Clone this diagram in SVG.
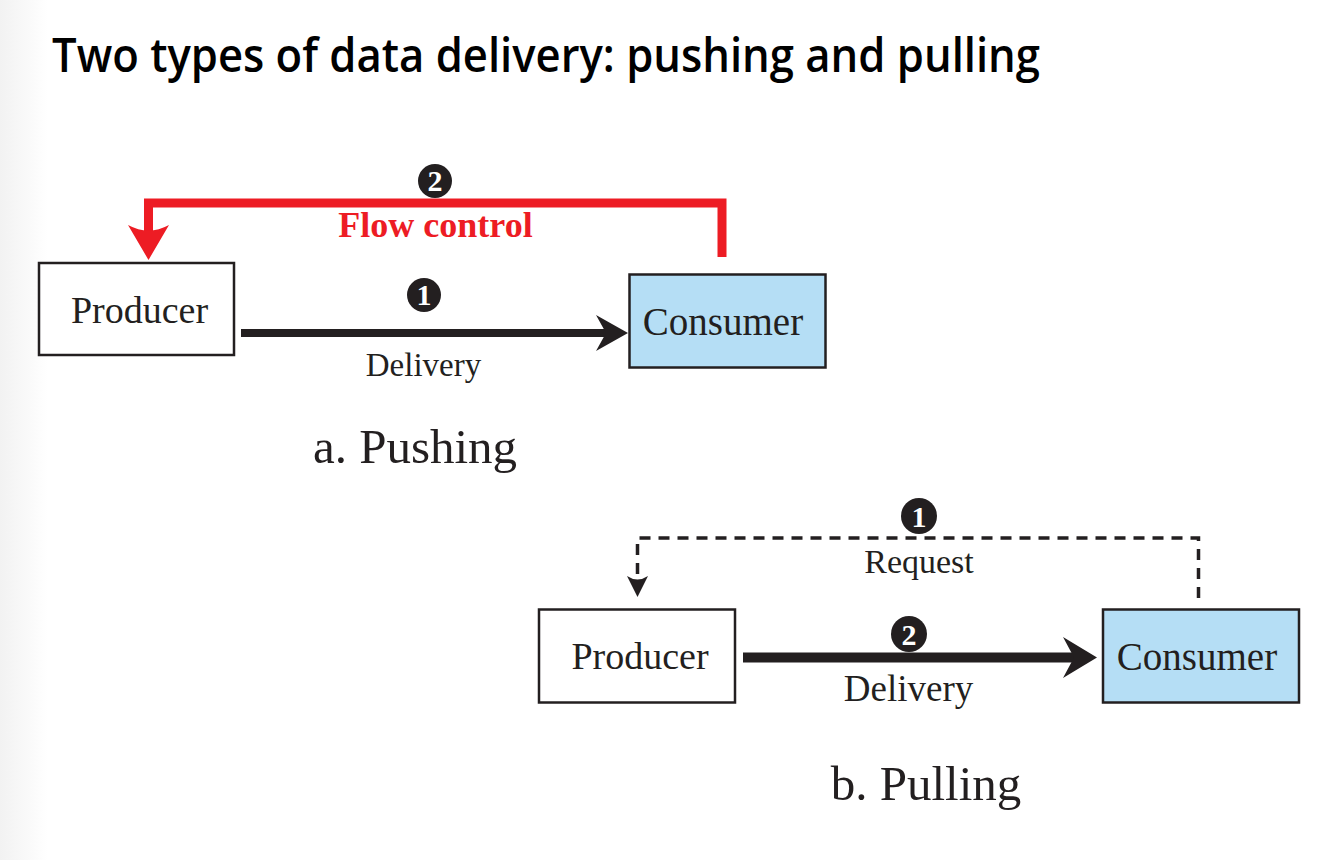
<svg xmlns="http://www.w3.org/2000/svg" width="1334" height="860" viewBox="0 0 1334 860">
<defs>
<linearGradient id="edge" x1="0" y1="0" x2="1" y2="0">
<stop offset="0" stop-color="#f2f2f2"/>
<stop offset="1" stop-color="#ffffff"/>
</linearGradient>
<style>
.box{stroke:#231f20;stroke-width:2.5}
.prod{fill:#ffffff}
.cons{fill:#b5def5}
.lbl{font-family:"Liberation Serif","Times New Roman",serif;fill:#231f20;text-anchor:middle}
.num{font-family:"Liberation Serif","Times New Roman",serif;font-weight:bold;fill:#ffffff;text-anchor:middle;font-size:30px}
.badge{fill:#231f20}
</style>
</defs>
<rect x="0" y="0" width="1334" height="860" fill="#ffffff"/>
<rect x="0" y="0" width="48" height="860" fill="url(#edge)"/>

<text id="title" x="52" y="72" font-family="'Open Sans','Noto Sans',sans-serif" font-weight="600" font-size="47" fill="#000000" textLength="988" lengthAdjust="spacingAndGlyphs">Two types of data delivery: pushing and pulling</text>

<g id="connectors">
  <!-- a: flow control (red) -->
  <path d="M722,257 V203 H148.5 V238" fill="none" stroke="#ed1c24" stroke-width="9"/>
  <path d="M148.5,260 L128,225 Q148.5,236 169,225 Z" fill="#ed1c24"/>
  <!-- a: delivery -->
  <path d="M241,333 H606" fill="none" stroke="#231f20" stroke-width="8"/>
  <path d="M628,333 L596,315 L606,333 L596,351 Z" fill="#231f20"/>
  <!-- b: request (dashed) -->
  <path d="M1198.5,598 V538 H637.5 V580" fill="none" stroke="#231f20" stroke-width="3.5" stroke-dasharray="11 8"/>
  <path d="M637.5,597 L627,576 Q637.5,583 648,576 Z" fill="#231f20"/>
  <!-- b: delivery -->
  <path d="M743,657.5 H1074" fill="none" stroke="#231f20" stroke-width="10"/>
  <path d="M1097,657.5 L1063,637 L1074,657.5 L1063,678 Z" fill="#231f20"/>
</g>

<g id="badge-a2"><circle class="badge" cx="435" cy="181" r="17"/><text class="num" x="435" y="191">2</text></g>
<text id="label-flow" class="lbl" x="435.5" y="237" font-size="36" font-weight="bold" style="fill:#ed1c24">Flow control</text>

<g id="producer-a"><rect class="box prod" x="39" y="263" width="195" height="92"/><text class="lbl" x="139.5" y="323" font-size="38">Producer</text></g>
<g id="consumer-a"><rect class="box cons" x="629.5" y="274.5" width="196" height="93"/><text class="lbl" x="723" y="335" font-size="39">Consumer</text></g>

<g id="badge-a1"><circle class="badge" cx="424" cy="295" r="17"/><text class="num" x="424" y="305">1</text></g>
<text id="label-delivery-a" class="lbl" x="423.5" y="376" font-size="33">Delivery</text>
<text id="caption-a" class="lbl" x="415" y="463" font-size="49">a. Pushing</text>

<g id="badge-b1"><circle class="badge" cx="919" cy="516" r="18"/><text class="num" x="919" y="526.5">1</text></g>
<text id="label-request" class="lbl" x="919" y="573" font-size="34">Request</text>

<g id="producer-b"><rect class="box prod" x="539" y="609.5" width="196" height="93"/><text class="lbl" x="640" y="669" font-size="38">Producer</text></g>
<g id="consumer-b"><rect class="box cons" x="1103" y="609.5" width="196" height="93"/><text class="lbl" x="1197" y="670" font-size="39">Consumer</text></g>

<g id="badge-b2"><circle class="badge" cx="909" cy="634" r="18"/><text class="num" x="909" y="644.5">2</text></g>
<text id="label-delivery-b" class="lbl" x="908.5" y="701" font-size="37">Delivery</text>
<text id="caption-b" class="lbl" x="926" y="800" font-size="49">b. Pulling</text>
</svg>
